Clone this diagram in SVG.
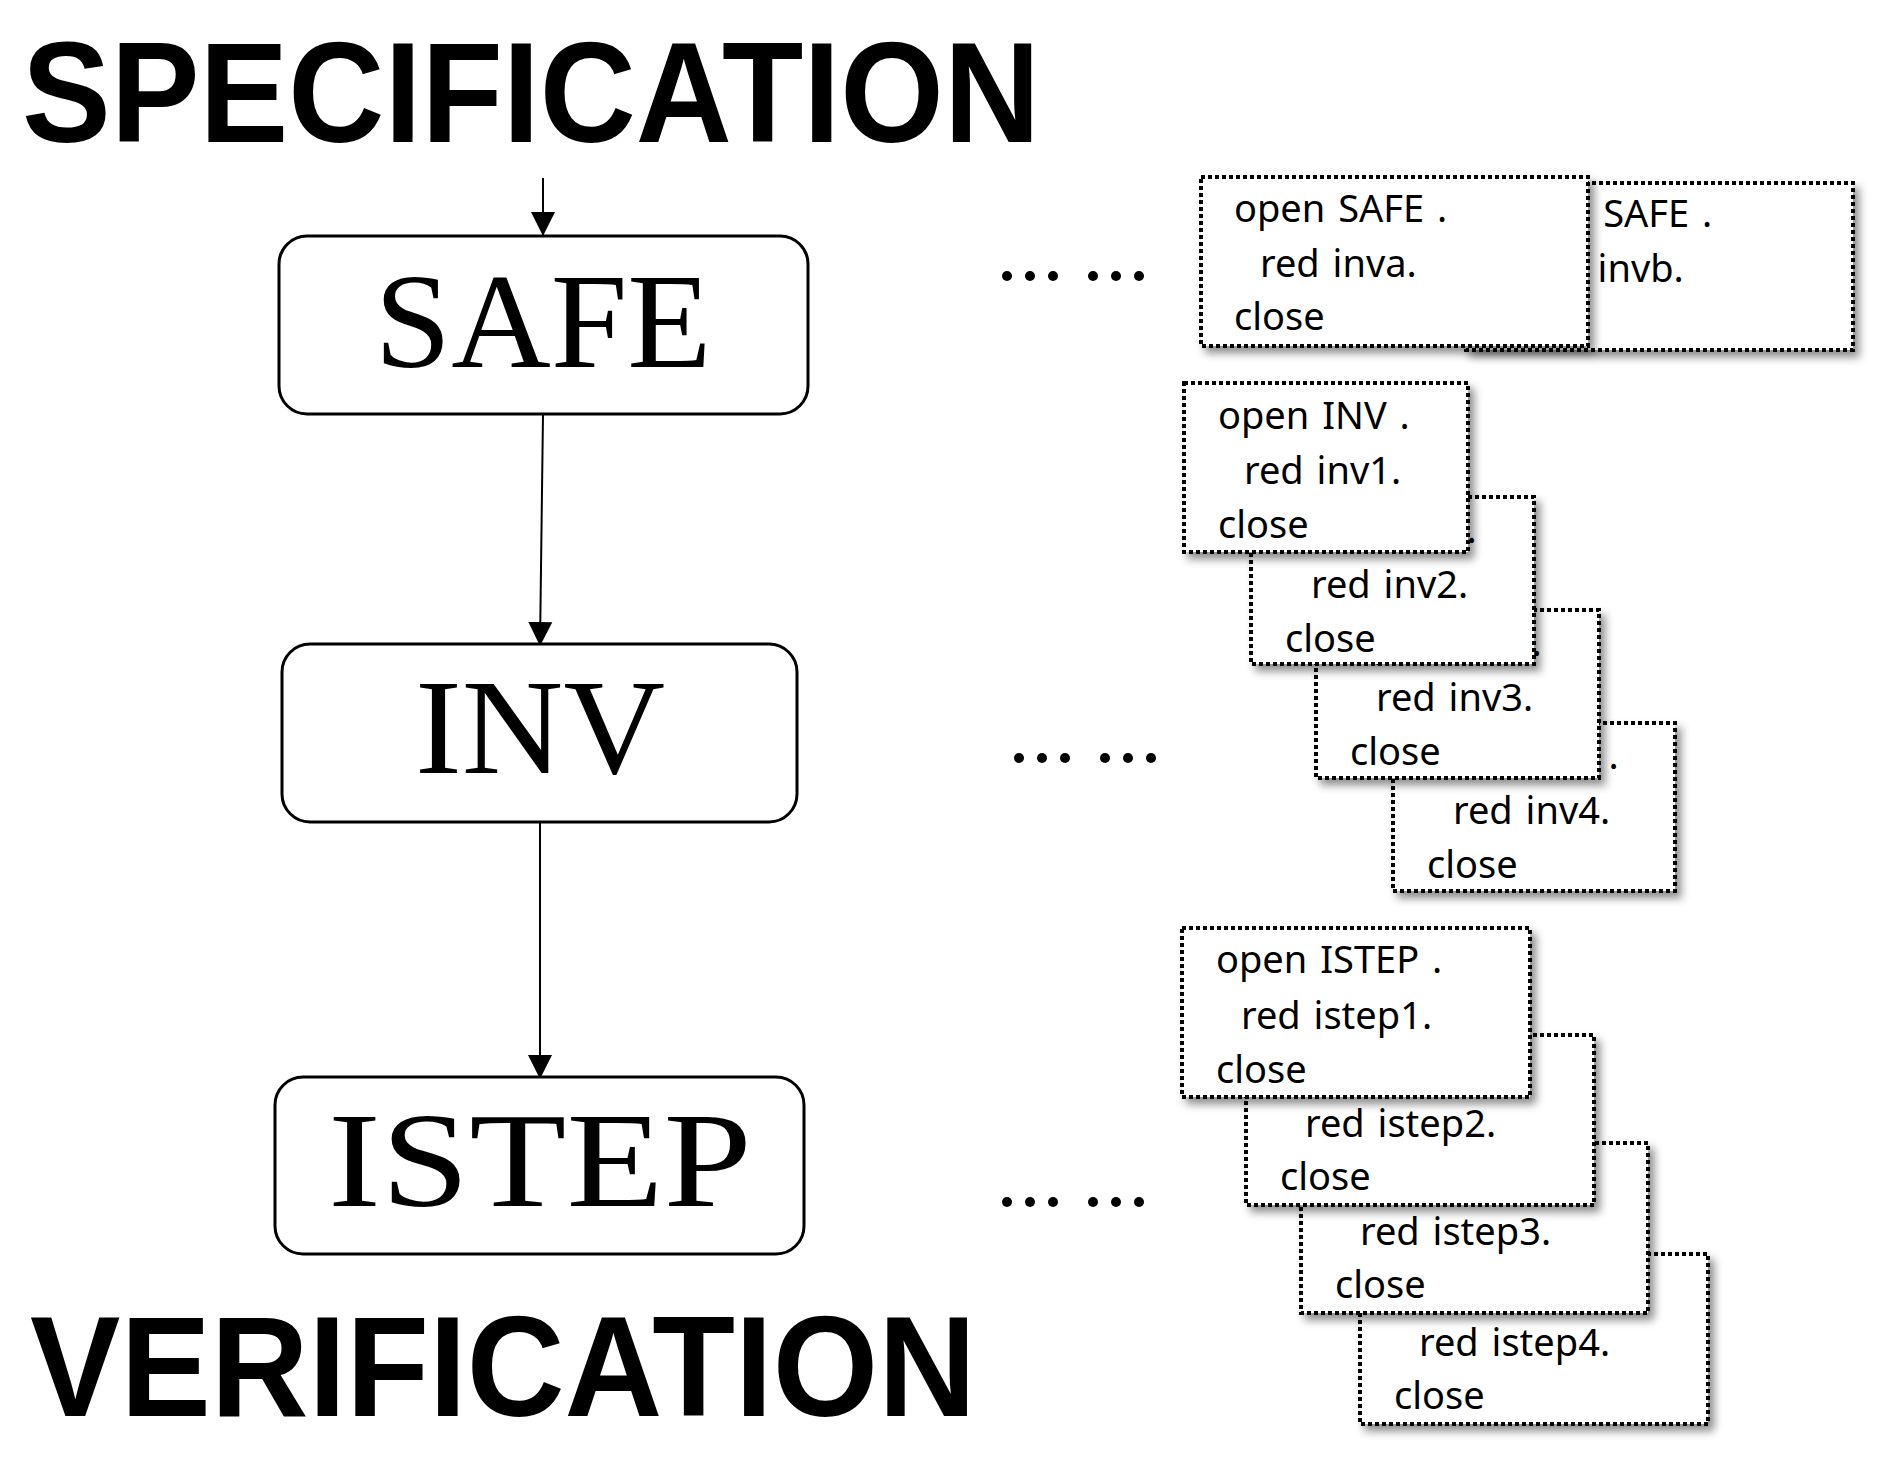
<svg xmlns="http://www.w3.org/2000/svg" width="1885" height="1462" viewBox="0 0 1885 1462">
<style>
.title{font-family:"Liberation Sans",Arial,sans-serif;font-weight:bold;font-size:142px;fill:#000}
.node rect{fill:#fff;stroke:#000;stroke-width:3}
.node text{font-family:"Liberation Serif","Times New Roman",serif;font-size:136px;fill:#000;text-anchor:middle}
.card rect{fill:#fff;stroke:#000;stroke-width:4;stroke-dasharray:4 3;filter:url(#sh)}
.card text{font-family:"Noto Sans","Noto Sans CJK SC",sans-serif;font-size:38px;word-spacing:3px;fill:#000}
.conn line{stroke:#000;stroke-width:2}
.dots circle{fill:#000}
</style>
<defs>
<filter id="sh" x="-10%" y="-10%" width="130%" height="130%"><feDropShadow dx="5" dy="6" stdDeviation="4" flood-color="#000" flood-opacity="0.45"/></filter>
<marker id="a2" markerWidth="26" markerHeight="26" refX="24" refY="12" orient="auto" markerUnits="userSpaceOnUse" viewBox="0 0 26 24"><path d="M0,0 L24,12 L0,24 z" fill="#000"/></marker>
</defs>
<rect width="1885" height="1462" fill="#fff"/>
<text class="title" x="22" y="142" textLength="1018" lengthAdjust="spacingAndGlyphs">SPECIFICATION</text>
<text class="title" x="30" y="1416" textLength="946" lengthAdjust="spacingAndGlyphs">VERIFICATION</text>

<g id="connectors" class="conn">
<line x1="543" y1="178" x2="543" y2="236" marker-end="url(#a2)"/>
<line x1="543" y1="414" x2="540" y2="646" marker-end="url(#a2)"/>
<line x1="540" y1="822" x2="540" y2="1079" marker-end="url(#a2)"/>
</g>

<g id="SAFE" class="node"><rect x="279" y="236" width="529" height="178" rx="28"/><text x="543" y="367" textLength="337" lengthAdjust="spacingAndGlyphs">SAFE</text></g>
<g id="INV" class="node"><rect x="282" y="644" width="515" height="178" rx="28"/><text x="540" y="773" textLength="250" lengthAdjust="spacingAndGlyphs">INV</text></g>
<g id="ISTEP" class="node"><rect x="275" y="1077" width="529" height="177" rx="28"/><text x="540" y="1206" textLength="424" lengthAdjust="spacingAndGlyphs">ISTEP</text></g>

<g class="dots">
<g id="dots1"><circle cx="1007" cy="276" r="5"/><circle cx="1030" cy="276" r="5"/><circle cx="1053" cy="276" r="5"/><circle cx="1093" cy="276" r="5"/><circle cx="1116" cy="276" r="5"/><circle cx="1139" cy="276" r="5"/></g>
<g id="dots2"><circle cx="1019" cy="758" r="5"/><circle cx="1042" cy="758" r="5"/><circle cx="1065" cy="758" r="5"/><circle cx="1105" cy="758" r="5"/><circle cx="1128" cy="758" r="5"/><circle cx="1151" cy="758" r="5"/></g>
<g id="dots3"><circle cx="1007" cy="1202" r="5"/><circle cx="1030" cy="1202" r="5"/><circle cx="1053" cy="1202" r="5"/><circle cx="1093" cy="1202" r="5"/><circle cx="1116" cy="1202" r="5"/><circle cx="1139" cy="1202" r="5"/></g>
</g>

<g id="safe-b" class="card"><rect x="1466" y="183" width="387" height="167"/><text x="1499" y="227">open SAFE .</text><text x="1525" y="282">red invb.</text><text x="1499" y="336">close</text></g>
<g id="safe-a" class="card"><rect x="1201" y="177" width="387" height="169"/><text x="1234" y="222">open SAFE .</text><text x="1260" y="277">red inva.</text><text x="1234" y="330">close</text></g>

<g id="inv-4" class="card"><rect x="1393" y="723" width="282" height="168"/><text x="1427" y="769">open INV .</text><text x="1453" y="824">red inv4.</text><text x="1427" y="878">close</text></g>
<g id="inv-3" class="card"><rect x="1316" y="610" width="283" height="168"/><text x="1350" y="656">open INV .</text><text x="1376" y="711">red inv3.</text><text x="1350" y="765">close</text></g>
<g id="inv-2" class="card"><rect x="1251" y="497" width="283" height="167"/><text x="1285" y="543">open INV .</text><text x="1311" y="598">red inv2.</text><text x="1285" y="652">close</text></g>
<g id="inv-1" class="card"><rect x="1184" y="383" width="284" height="169"/><text x="1218" y="429">open INV .</text><text x="1244" y="484">red inv1.</text><text x="1218" y="538">close</text></g>

<g id="istep-4" class="card"><rect x="1360" y="1254" width="348" height="170"/><text x="1394" y="1299">open ISTEP .</text><text x="1419" y="1356">red istep4.</text><text x="1394" y="1409">close</text></g>
<g id="istep-3" class="card"><rect x="1301" y="1143" width="347" height="170"/><text x="1335" y="1188">open ISTEP .</text><text x="1360" y="1245">red istep3.</text><text x="1335" y="1298">close</text></g>
<g id="istep-2" class="card"><rect x="1246" y="1035" width="348" height="170"/><text x="1280" y="1080">open ISTEP .</text><text x="1305" y="1137">red istep2.</text><text x="1280" y="1190">close</text></g>
<g id="istep-1" class="card"><rect x="1182" y="928" width="348" height="169"/><text x="1216" y="973">open ISTEP .</text><text x="1241" y="1029">red istep1.</text><text x="1216" y="1083">close</text></g>
</svg>
